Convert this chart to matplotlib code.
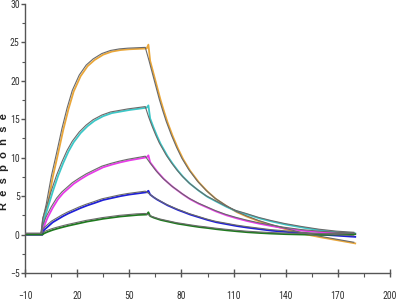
import numpy as np
import matplotlib
matplotlib.use("Agg")
import matplotlib.pyplot as plt
from matplotlib import font_manager
from matplotlib.transforms import offset_copy

# association phase
t_assoc = [-10, 0, 1, 3, 6, 9, 12, 15, 18, 22, 26, 30, 35, 40, 45, 50, 55, 60]
orange_assoc = [0, 0, 1.8, 3.8, 7.5, 10.5, 13.6, 16.3, 18.6, 20.6, 21.9, 22.7, 23.4, 23.8, 24.0, 24.1, 24.15, 24.2]
cyan_assoc = [0, 0, 2.0, 3.4, 5.6, 7.6, 9.3, 10.8, 12.0, 13.2, 14.1, 14.8, 15.4, 15.8, 16.0, 16.2, 16.35, 16.5]
magenta_assoc = [0, 0, 1.1, 2.2, 3.5, 4.6, 5.4, 6.0, 6.6, 7.2, 7.75, 8.2, 8.75, 9.1, 9.4, 9.65, 9.85, 10.05]
blue_assoc = [0, 0, 0.6, 1.0, 1.6, 2.0, 2.4, 2.75, 3.05, 3.45, 3.8, 4.1, 4.5, 4.75, 5.0, 5.2, 5.35, 5.5]
green_assoc = [0, 0, 0.15, 0.35, 0.6, 0.8, 0.98, 1.15, 1.3, 1.5, 1.7, 1.85, 2.05, 2.2, 2.35, 2.45, 2.55, 2.6]

# dissociation phase (second point is the injection spike)
t_dissoc = [60, 61, 62, 64, 66, 68, 70, 72, 75, 78, 81, 85, 90, 95, 100, 106, 112, 118, 125, 132, 140, 150, 160, 170, 180]
orange_dissoc = [24.2, 24.7, 22.6, 20.9, 19.2, 17.5, 16.0, 14.6, 12.8, 11.2, 9.8, 8.3, 6.8, 5.6, 4.6, 3.7, 2.9, 2.3, 1.7, 1.2, 0.7, 0.1, -0.35, -0.75, -1.15]
cyan_dissoc = [16.5, 16.8, 15.1, 13.9, 12.8, 11.8, 11.0, 10.2, 9.2, 8.3, 7.5, 6.6, 5.7, 4.9, 4.3, 3.6, 3.0, 2.6, 2.1, 1.7, 1.3, 0.9, 0.55, 0.3, 0.15]
magenta_dissoc = [10.05, 10.3, 9.4, 8.8, 8.2, 7.7, 7.2, 6.8, 6.2, 5.7, 5.2, 4.6, 4.0, 3.5, 3.0, 2.5, 2.1, 1.75, 1.4, 1.1, 0.8, 0.5, 0.3, 0.15, 0.05]
blue_dissoc = [5.5, 5.7, 5.2, 4.85, 4.55, 4.3, 4.05, 3.8, 3.5, 3.2, 2.95, 2.6, 2.25, 1.9, 1.6, 1.35, 1.1, 0.9, 0.7, 0.5, 0.35, 0.15, 0.0, -0.15, -0.3]
green_dissoc = [2.6, 2.9, 2.4, 2.2, 2.05, 1.9, 1.8, 1.7, 1.55, 1.4, 1.3, 1.15, 0.98, 0.85, 0.7, 0.55, 0.42, 0.3, 0.2, 0.12, 0.05, 0.0, -0.05, 0.0, 0.05]

series = [
    (orange_assoc, orange_dissoc, "#eaa73a"),
    (cyan_assoc, cyan_dissoc, "#3cc8c8"),
    (magenta_assoc, magenta_dissoc, "#e83ce8"),
    (blue_assoc, blue_dissoc, "#2020d8"),
    (green_assoc, green_dissoc, "#1f7a1f"),
]

x_ticks = [-10, 20, 50, 80, 110, 140, 170, 200]
y_ticks = [-5, 0, 5, 10, 15, 20, 25, 30]

# pick a narrow face for the tick numbers if one is around
installed = {f.name for f in font_manager.fontManager.ttflist}
tick_font, tick_size = "Liberation Sans", 6.5
for name in ["Liberation Sans Narrow", "Roboto Condensed"]:
    if name in installed:
        tick_font, tick_size = name, 7
        break

fig = plt.figure(figsize=(4, 3), dpi=100)
ax = fig.add_axes([0.0625, 0.09, 0.9125, 0.897])

fit_trans = offset_copy(ax.transData, fig=fig, x=-1.0, y=0.8, units="points")

for assoc, dissoc, color in series:
    t_all = np.concatenate([t_assoc, t_dissoc])
    y_all = np.concatenate([assoc, dissoc])
    ax.plot(t_all, y_all, color=color, lw=1.3, zorder=2)
    # fitted curve, no spike
    t_fit = np.delete(t_all, len(t_assoc) + 1)
    y_fit = np.delete(y_all, len(t_assoc) + 1)
    ax.plot(t_fit, y_fit, color="#6a6a6a", lw=0.8, zorder=3, transform=fit_trans)

ax.set_xlim(-10, 200)
ax.set_ylim(-5, 30)
ax.set_xticks(x_ticks)
ax.set_yticks(y_ticks)
ax.set_xticks(np.arange(5, 200, 30), minor=True)
ax.set_yticks(np.arange(-2.5, 30, 5), minor=True)

for side in ["top", "right"]:
    ax.spines[side].set_visible(False)
for side in ["left", "bottom"]:
    ax.spines[side].set_color("#555555")
    ax.spines[side].set_linewidth(1.0)

ax.tick_params(axis="x", which="major", direction="inout", length=6, width=1,
               color="#555555", pad=10, labelsize=tick_size, labelcolor="#333333")
ax.tick_params(axis="x", which="minor", direction="out", length=3, width=0.8, color="#555555")
ax.tick_params(axis="y", which="major", direction="out", length=3, width=1,
               color="#555555", pad=0.8, labelsize=tick_size, labelcolor="#333333")
ax.tick_params(axis="y", which="minor", direction="out", length=2, width=0.8, color="#555555")
for lab in ax.get_xticklabels() + ax.get_yticklabels():
    lab.set_family(tick_font)

fig.text(0.011, 0.46, "R  e  s  p  o  n  s  e", rotation=90, ha="center", va="center",
         fontsize=8, fontweight="bold", color="#222222",
         family=["Liberation Sans", "DejaVu Sans"])

fig.savefig("out.png", dpi=100)
